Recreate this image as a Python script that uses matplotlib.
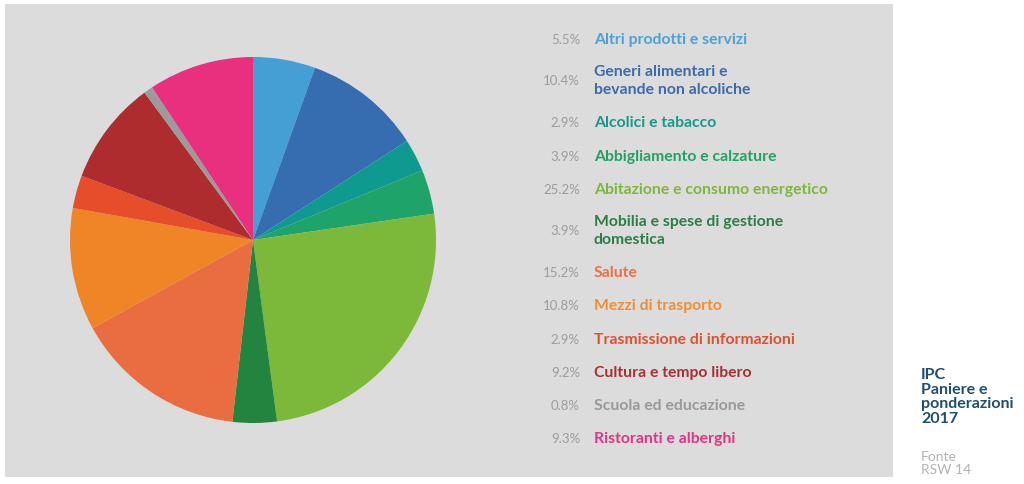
import matplotlib.pyplot as plt
from matplotlib.patches import Rectangle

categorie = ["Altri prodotti e servizi",
             "Generi alimentari e\nbevande non alcoliche",
             "Alcolici e tabacco",
             "Abbigliamento e calzature",
             "Abitazione e consumo energetico",
             "Mobilia e spese di gestione\ndomestica",
             "Salute",
             "Mezzi di trasporto",
             "Trasmissione di informazioni",
             "Cultura e tempo libero",
             "Scuola ed educazione",
             "Ristoranti e alberghi"]
pesi = [5.5, 10.4, 2.9, 3.9, 25.2, 3.9, 15.2, 10.8, 2.9, 9.2, 0.8, 9.3]
colori = ["#449FD5", "#356DB0", "#0E9A8E", "#1EA46A", "#7CB93A", "#23843F",
          "#EA6D41", "#EF8527", "#E64D2A", "#AE2C2E", "#9B9B9B", "#E8307F"]
colori_testo = ["#4AA2D6", "#3B6BAA", "#16998C", "#24A065", "#7DB83E", "#2B7F44",
                "#EB7048", "#EF8E34", "#E0502E", "#A92F33", "#999999", "#E43484"]
righe_y = [40, 81, 123, 157, 190, 231, 273, 306, 340, 373, 406, 439]

W, H = 1024, 485
fig = plt.figure(figsize=(W / 100, H / 100), dpi=100)
fig.patch.set_facecolor("white")

# pannello grigio
fig.add_artist(Rectangle((5 / W, 1 - 478 / H), 888 / W, 473 / H,
                         transform=fig.transFigure, facecolor="#DCDCDC",
                         edgecolor="none", zorder=-1))

cx, cy, r = 253, 241, 183
ax = fig.add_axes([(cx - r) / W, 1 - (cy + r) / H, 2 * r / W, 2 * r / H])
ax.set_zorder(1)
ax.pie(pesi, colors=colori, startangle=90, counterclock=False,
       wedgeprops=dict(linewidth=0))
ax.set_xlim(-1, 1)
ax.set_ylim(-1, 1)
ax.set_aspect("equal")
ax.axis("off")

for p, lab, c, y in zip(pesi, categorie, colori_testo, righe_y):
    fig.text(580 / W, 1 - y / H, f"{p:.1f}%", ha="right", va="center",
             fontsize=9.5, color="#9C9C9C", family="Lato")
    fig.text(594 / W, 1 - y / H, lab, ha="left", va="center",
             fontsize=11.3, color=c, family="Lato", fontweight="bold",
             linespacing=1.3)

fig.text(921 / W, 1 - 397 / H, "IPC\nPaniere e\nponderazioni\n2017",
         ha="left", va="center", fontsize=11.5, color="#1F4E6E",
         family="Lato", fontweight="bold", linespacing=1.05)
fig.text(921 / W, 1 - 464 / H, "Fonte\nRSW 14", ha="left", va="center",
         fontsize=10, color="#B3B3B3", family="Lato", linespacing=1.1)

fig.savefig("out.png", dpi=100, facecolor="white")
